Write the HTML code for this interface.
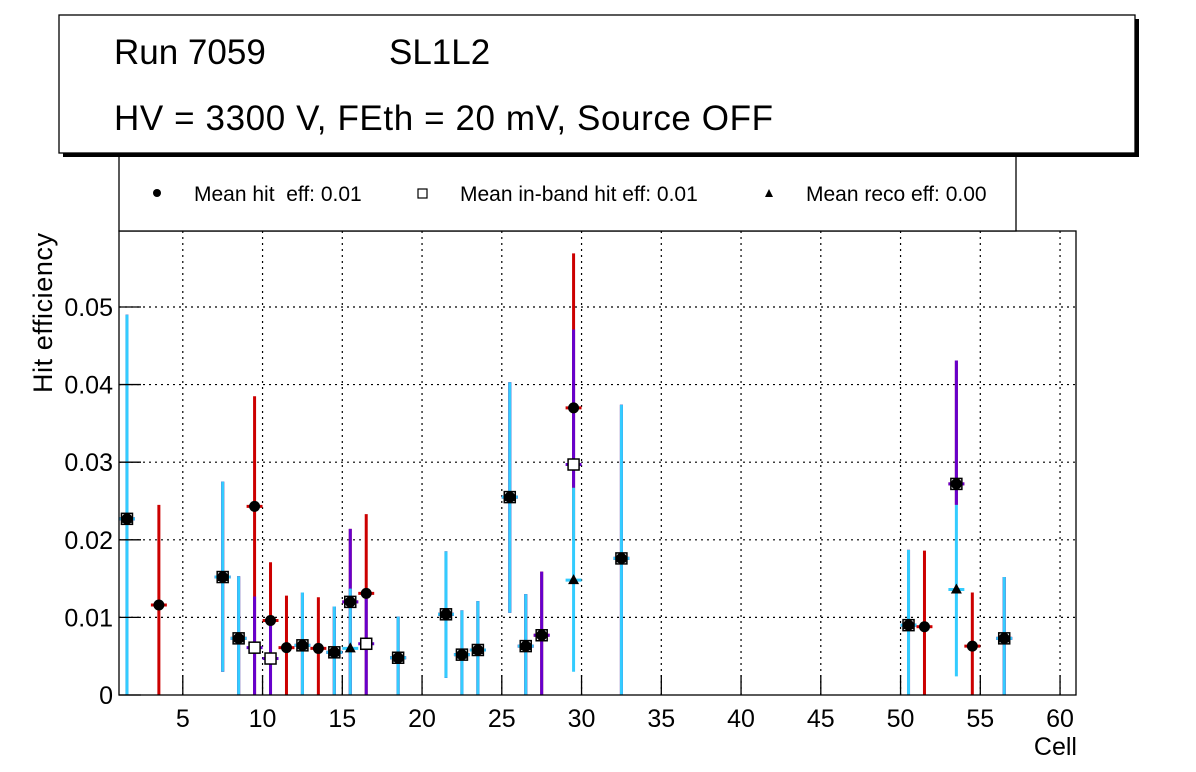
<!DOCTYPE html>
<html><head><meta charset="utf-8"><style>
body{margin:0;background:#fff;}
svg{display:block;font-family:"Liberation Sans",sans-serif;}
</style></head><body>
<svg id="c" width="1196" height="772" viewBox="0 0 1196 772">
<g id="grid"></g>
<g id="marks"></g>
<g id="axes"></g>
<rect x="119" y="120" width="897" height="111" fill="#fff" stroke="#000" stroke-width="1.3"/>
<g>
<circle cx="157" cy="193" r="4" fill="#000"/>
<text x="194" y="201" font-size="21" xml:space="preserve">Mean hit  eff: 0.01</text>
<rect x="418" y="189" width="9" height="9" fill="#fff" stroke="#000" stroke-width="1.2"/>
<text x="460" y="201" font-size="21">Mean in-band hit eff: 0.01</text>
<polygon points="769,189 773,197 765,197" fill="#000"/>
<text x="806" y="201" font-size="21">Mean reco eff: 0.00</text>
</g>
<rect x="63" y="19" width="1076" height="138" fill="#000"/>
<rect x="59" y="15" width="1076" height="138" fill="#fff" stroke="#000" stroke-width="1.3"/>
<text x="114" y="64" font-size="35">Run 7059</text>
<text x="389" y="64" font-size="35">SL1L2</text>
<text x="114" y="130" font-size="35" textLength="659">HV = 3300 V, FEth = 20 mV, Source OFF</text>
<text transform="translate(52,313) rotate(-90)" text-anchor="middle" font-size="27" textLength="160">Hit efficiency</text>
<text x="1077" y="755" text-anchor="end" font-size="25">Cell</text>
</svg>
<script>
const cells=[1.5,3.5,7.5,8.5,9.5,10.5,11.5,12.5,13.5,14.5,15.5,16.5,18.5,21.5,22.5,23.5,25.5,26.5,27.5,29.5,32.5,50.5,51.5,53.5,54.5,56.5];
const hitVal=[0.0227,0.0116,0.0152,0.0073,0.0243,0.0096,0.0061,0.0064,0.006,0.0055,0.012,0.0131,0.0048,0.0104,0.0052,0.0058,0.0255,0.0063,0.0077,0.037,0.0176,0.009,0.0088,0.0272,0.0063,0.0073];
const hitLo=[0,0,0.003,0,0,0,0,0,0,0,0,0,0,0.0022,0,0,0.0106,0,0,0.02,0,0,0,0.0245,0,0];
const hitHi=[0.049,0.0245,0.0275,0.0153,0.0385,0.0171,0.0128,0.0132,0.0126,0.0114,0.0214,0.0233,0.0101,0.0185,0.0109,0.0121,0.0403,0.013,0.0159,0.0569,0.0374,0.0187,0.0186,0.0431,0.0132,0.0152];
const inbVal=[0.0227,null,0.0152,0.0073,0.0061,0.0047,null,0.0064,null,0.0055,0.012,0.0066,0.0048,0.0104,0.0052,0.0058,0.0255,0.0063,0.0077,0.0297,0.0176,0.009,null,0.0272,null,0.0073];
const inbLo=[0,null,0.003,0,0,0,null,0,null,0,0,0,0,0.0022,0,0,0.0106,0,0,0.0267,0,0,null,0.0245,null,0];
const inbHi=[0.049,null,0.0275,0.0153,0.0127,0.0095,null,0.0132,null,0.0114,0.0214,0.0131,0.0101,0.0185,0.0109,0.0121,0.0403,0.013,0.0159,0.0471,0.0374,0.0187,null,0.0431,null,0.0152];
const recoVal=[0.0227,null,0.0152,0.0073,null,null,null,0.0064,null,0.0055,0.006,null,0.0048,0.0104,0.0052,0.0058,0.0255,0.0063,null,0.0148,0.0176,0.009,null,0.0136,null,0.0073];
const recoLo=[0,null,0.003,0,null,null,null,0,null,0,0,null,0,0.0022,0,0,0.0106,0,null,0.003,0,0,null,0.0024,null,0];
const recoHi=[0.049,null,0.0275,0.0153,null,null,null,0.0132,null,0.0114,0.0137,null,0.0101,0.0185,0.0109,0.0121,0.0403,0.013,null,0.0267,0.0374,0.0187,null,0.0245,null,0.0152];
const xTicks=[5,10,15,20,25,30,35,40,45,50,55,60];
const yTicks=[0,0.01,0.02,0.03,0.04,0.05];
const yTickLabels=["0","0.01","0.02","0.03","0.04","0.05"];
const X0=119,X1=1076,Y0=695,Y1=231,XMIN=1,XMAX=61,YMAX=0.05979;
function sx(v){return X0+(v-XMIN)/(XMAX-XMIN)*(X1-X0);}
function sy(v){return Y0-v/YMAX*(Y0-Y1);}
const NS="http://www.w3.org/2000/svg";
function mk(tag,attrs,parent){const e=document.createElementNS(NS,tag);for(const k in attrs)e.setAttribute(k,attrs[k]);parent.appendChild(e);return e;}
const grid=document.getElementById('grid'),axes=document.getElementById('axes'),marks=document.getElementById('marks');
xTicks.forEach(t=>{
 const g=mk('line',{x1:sx(t),x2:sx(t),y1:Y0,y2:Y1,stroke:'#000','stroke-width':1.2,'stroke-dasharray':'2,4'},grid);
 
 
 const tk=mk('line',{x1:sx(t),x2:sx(t),y1:Y0,y2:Y0-20,stroke:'#000','stroke-width':1.3},axes);
 
 
 const lb=mk('text',{x:sx(t),y:727,'text-anchor':'middle','font-size':25},axes);
 lb.textContent=String(t);
 
 
});
yTicks.forEach((t,i)=>{
 if(t>0){const g=mk('line',{x1:X0,x2:X1,y1:sy(t),y2:sy(t),stroke:'#000','stroke-width':1.2,'stroke-dasharray':'2,4'},grid);
 
 }
 const tk=mk('line',{x1:X0,x2:X0+22,y1:sy(t),y2:sy(t),stroke:'#000','stroke-width':1.3},axes);
 
 
 const lb=mk('text',{x:113,y:sy(t)+9,'text-anchor':'end','font-size':25},axes);
 lb.textContent=yTickLabels[i];
 
 
});
const fr=mk('rect',{x:X0,y:Y1,width:X1-X0,height:Y0-Y1,fill:'none',stroke:'#000','stroke-width':1.3},axes);


const barLayer=mk('g',{},marks);


const markLayer=mk('g',{},marks);


function bars(vals,lo,hi,color,name){
 const g=mk('g',{},barLayer);
 
 
 cells.forEach((c,i)=>{
  const v=vals[i]; if(v===null) return;
  const x=sx(c),y=sy(v),h=(X1-X0)/(XMAX-XMIN)/2;
  mk('line',{x1:x,x2:x,y1:sy(lo[i]),y2:sy(hi[i]),stroke:color,'stroke-width':3},g);
  mk('line',{x1:x-h,x2:x+h,y1:y,y2:y,stroke:color,'stroke-width':3},g);
 });
}
function markers(vals,kind,name){
 const g=mk('g',{},markLayer);
 
 
 cells.forEach((c,i)=>{
  const v=vals[i]; if(v===null) return;
  const x=sx(c),y=sy(v);
  let m;
  if(kind==='circle') m=mk('circle',{cx:x,cy:y,r:5.5,fill:'#000'},g);
  else if(kind==='square') m=mk('rect',{x:x-5.5,y:y-5.5,width:11,height:11,fill:'#fff',stroke:'#000','stroke-width':1.5},g);
  else m=mk('polygon',{points:`${x},${y-6} ${x+5.5},${y+4} ${x-5.5},${y+4}`,fill:'#000'},g);
  
  
 });
}
bars(hitVal,hitLo,hitHi,'#cc0000','hit-eff-errors');
bars(inbVal,inbLo,inbHi,'#6600cc','inband-eff-errors');
bars(recoVal,recoLo,recoHi,'#33ccff','reco-eff-errors');
markers(inbVal,'square','inband-eff-series');
markers(hitVal,'circle','hit-eff-series');
markers(recoVal,'triangle','reco-eff-series');
</script>
</body></html>
